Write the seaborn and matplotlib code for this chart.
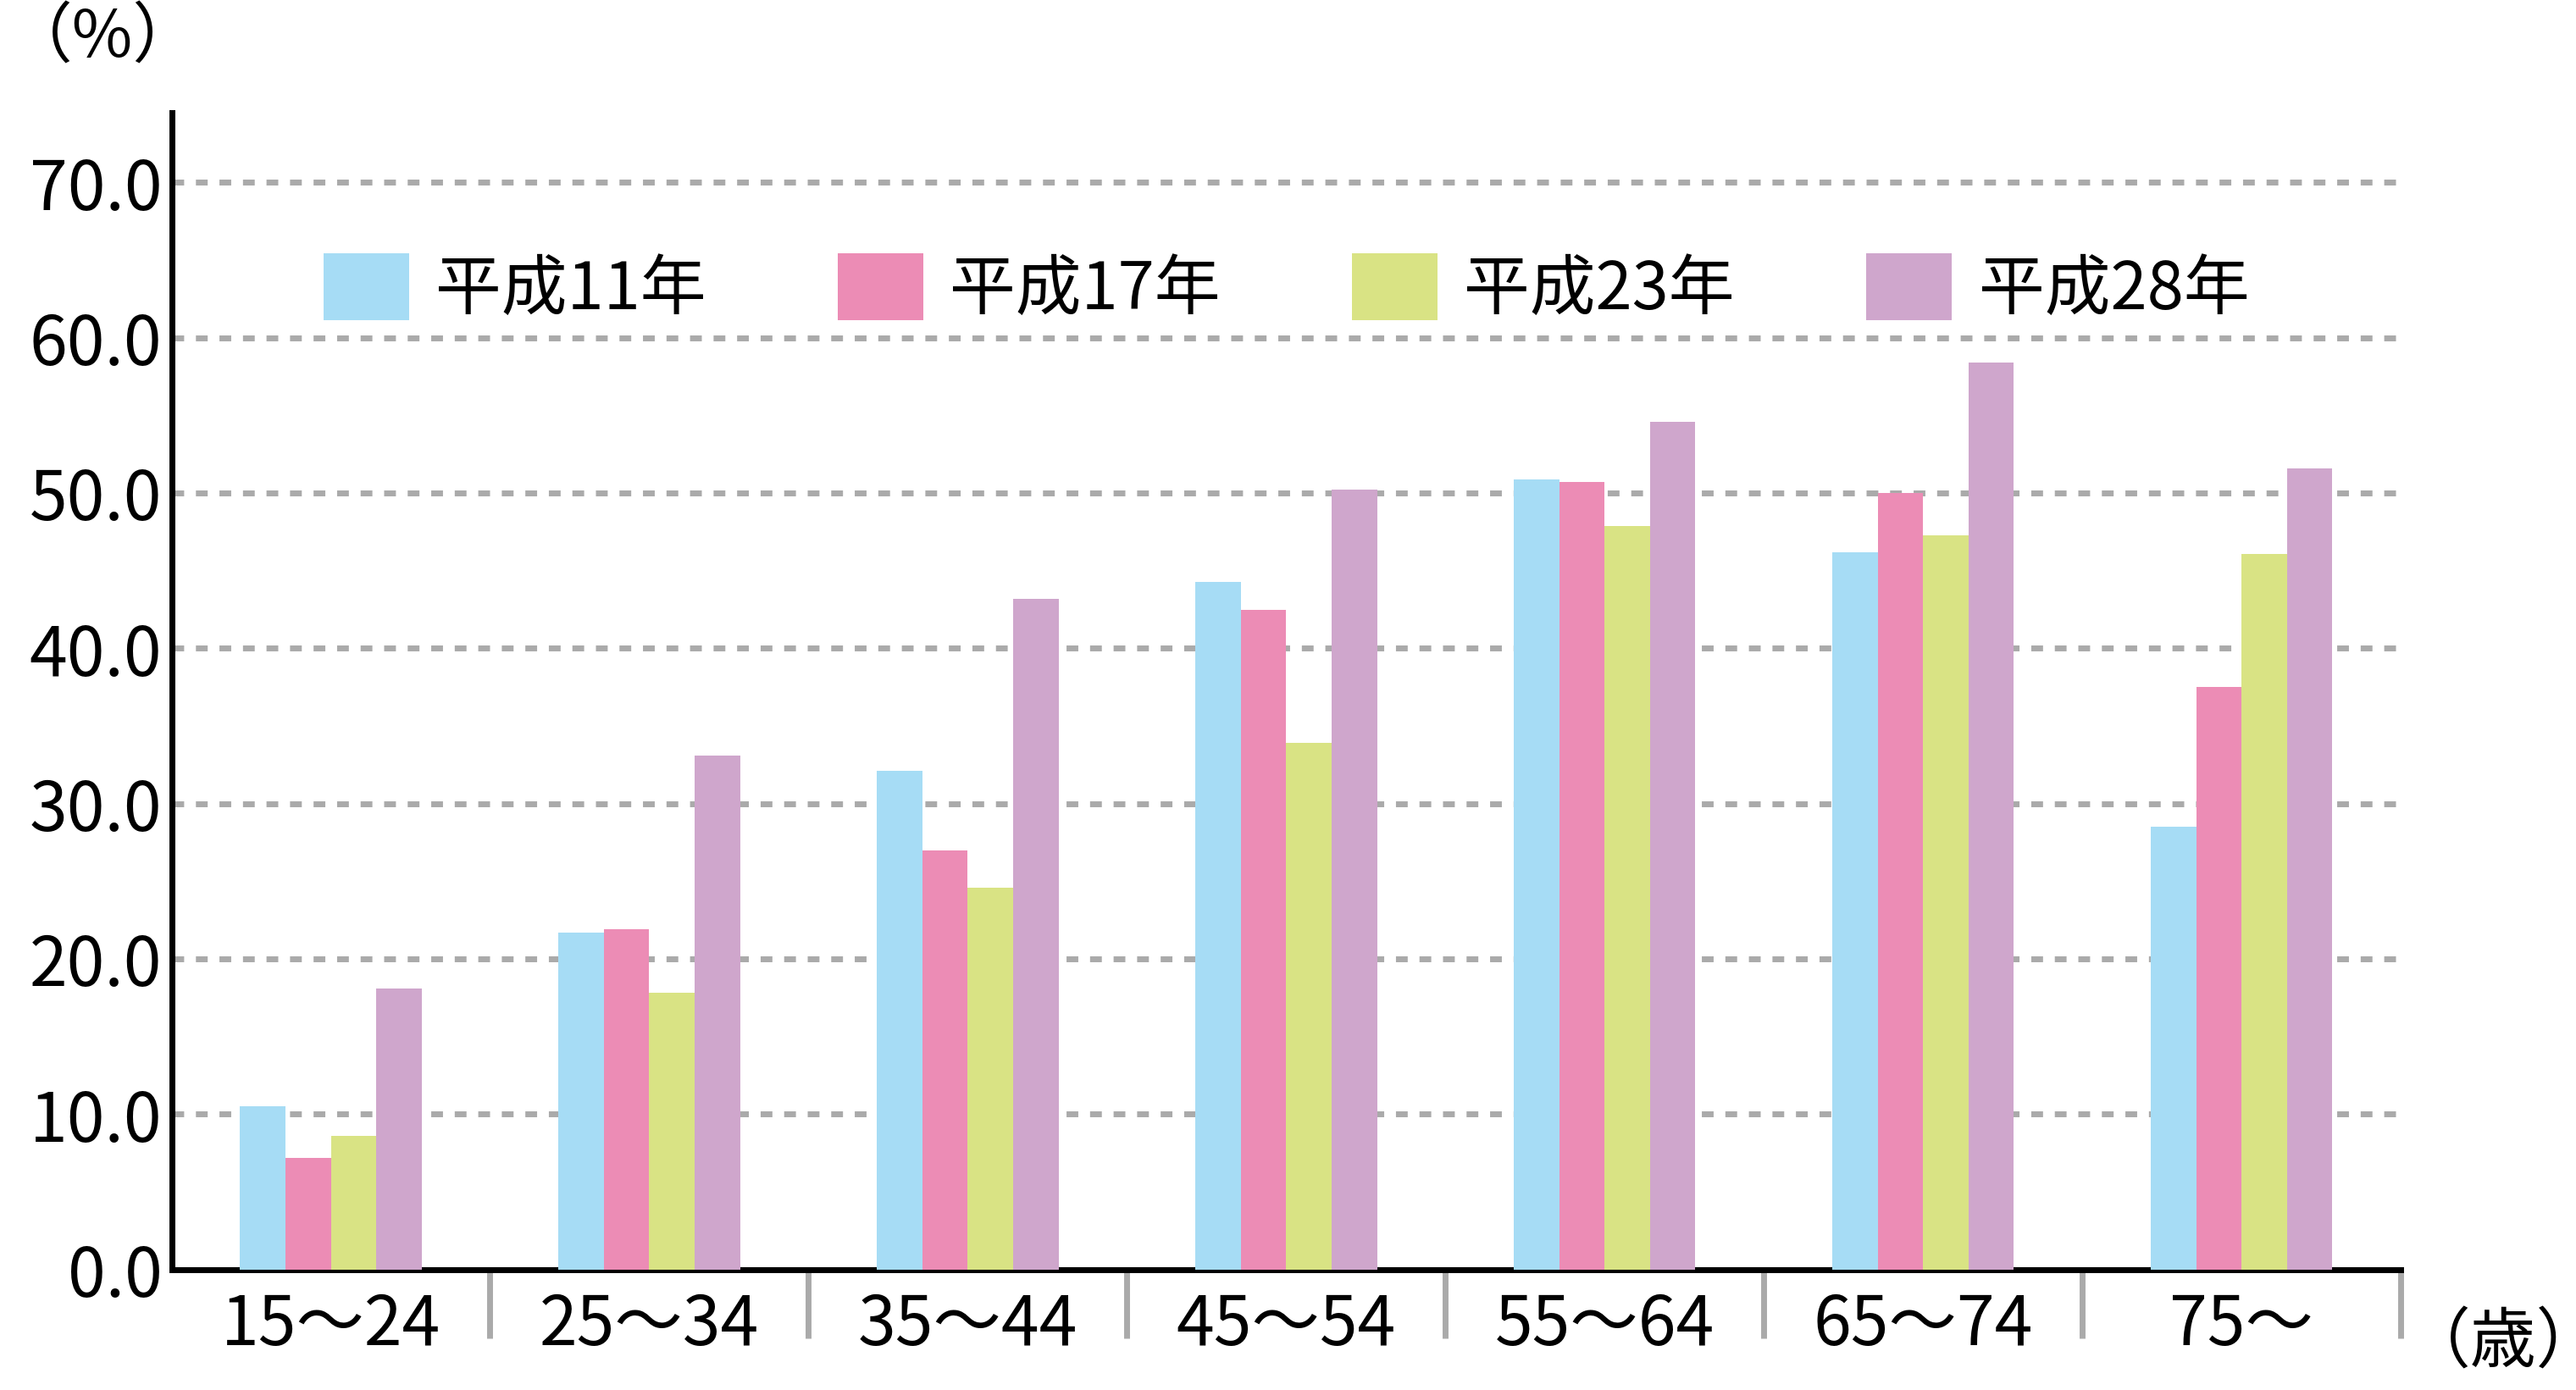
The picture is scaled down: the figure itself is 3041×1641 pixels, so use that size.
import matplotlib
matplotlib.use("Agg")
import matplotlib.pyplot as plt
import seaborn as sns
import pandas as pd
import numpy as np

plt.rcParams["font.family"] = "Noto Sans CJK JP"

categories = ["15～24", "25～34", "35～44", "45～54", "55～64", "65～74", "75～"]
series = ["平成11年", "平成17年", "平成23年", "平成28年"]
h11 = [10.5, 21.7, 32.1, 44.3, 50.9, 46.2, 28.5]
h17 = [7.2, 21.9, 27.0, 42.5, 50.7, 50.0, 37.5]
h23 = [8.6, 17.8, 24.6, 33.9, 47.9, 47.3, 46.1]
h28 = [18.1, 33.1, 43.2, 50.2, 54.6, 58.4, 51.6]
colors = ["#a6dcf5", "#ec8cb5", "#d9e384", "#cfa6cc"]

rows = []
for s, vals in zip(series, [h11, h17, h23, h28]):
    for c, v in zip(categories, vals):
        rows.append({"age": c, "year": s, "value": v})
df = pd.DataFrame(rows)

fig = plt.figure(figsize=(30.41, 16.41), dpi=100)
ax = fig.add_axes([0.0666, 0.0867, 0.8654, 0.8323])
sns.barplot(data=df, x="age", y="value", hue="year", palette=colors,
            width=0.57, gap=0, saturation=1, ax=ax, legend=True, zorder=3)

ax.set_xlim(-0.5, 6.5)
ax.set_ylim(0, 74.5)
ax.set_yticks(np.arange(0, 71, 10))
ax.set_yticklabels([f"{v:.1f}" for v in np.arange(0, 71, 10)], fontsize=58)
ax.set_xlabel("")
ax.set_ylabel("")
for y in range(10, 71, 10):
    ax.axhline(y, color="#aaaaaa", lw=5, ls=(0, (2, 2)), zorder=1)
ax.tick_params(axis="y", length=0, pad=8)
ax.tick_params(axis="x", which="major", length=0, labelsize=58, pad=18)
ax.set_xticks(np.arange(0.5, 6.6, 1), minor=True)
ax.tick_params(axis="x", which="minor", length=58, width=5, color="#aaaaaa")
for sp in ["top", "right"]:
    ax.spines[sp].set_visible(False)
ax.spines["left"].set_linewidth(5)
ax.spines["bottom"].set_linewidth(5)

ax.legend(loc="upper center", bbox_to_anchor=(0.5, 0.93), ncol=4, frameon=False,
          fontsize=56, handlelength=1.3, handleheight=1.2, columnspacing=2.0,
          handletextpad=0.4)

fig.text(0.04, 0.972, "（%）", fontsize=56, ha="center", va="center")
fig.text(0.972, 0.033, "（歳）", fontsize=56, ha="center", va="center")

fig.savefig("out.png", dpi=100)
